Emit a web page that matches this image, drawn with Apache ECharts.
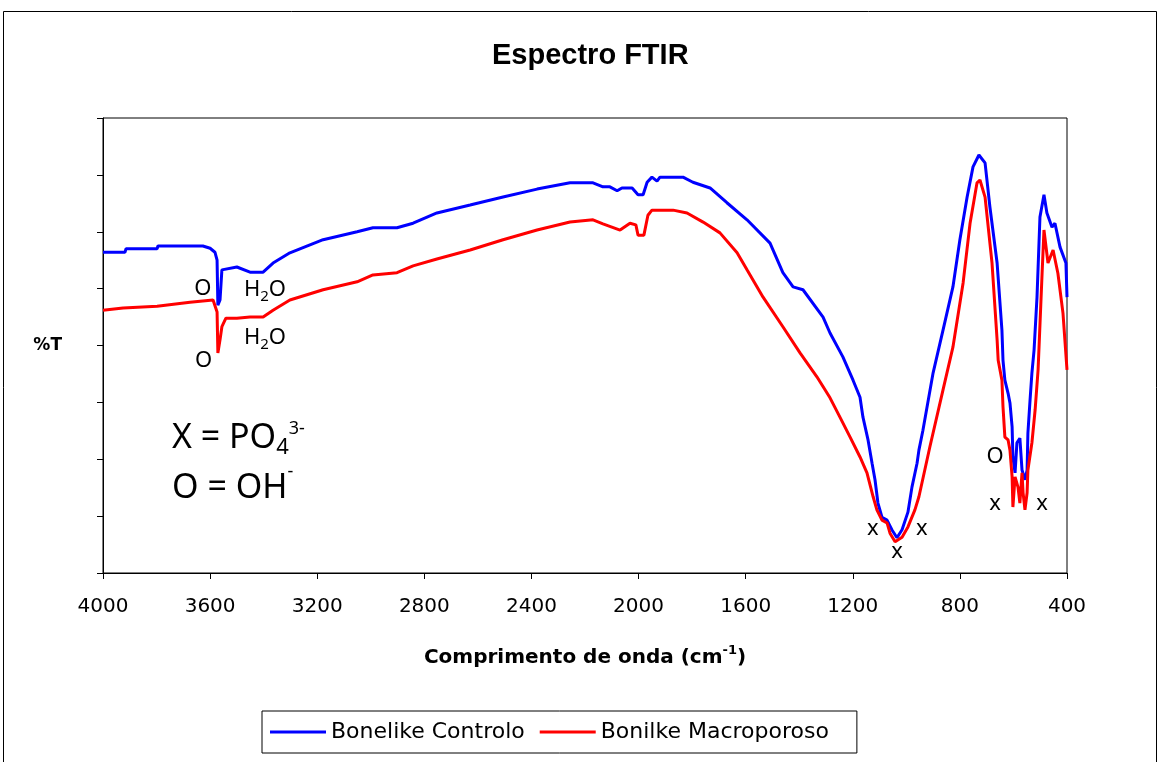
<!DOCTYPE html>
<html lang="pt">
<head>
<meta charset="UTF-8">
<title>Espectro FTIR</title>
<script src="https://cdn.jsdelivr.net/npm/echarts@6/dist/echarts.min.js"></script>
<style>
    html, body { margin: 0; padding: 0; background: #fff; }
    #main { width: 1160px; height: 762px; }
</style>
</head>
<body>
<div id="main"></div>
<script type="text/javascript">
// comprimento de onda (cm-1) e %T
var controloWn = [4000, 3918, 3914, 3798, 3795, 3627, 3600, 3582, 3574, 3571, 3563, 3556, 3500, 3451, 3402, 3365, 3302, 3178, 3051, 2992,
    2902, 2842, 2753, 2629, 2506, 2379, 2256, 2170, 2133, 2107, 2080, 2062, 2024, 2002, 1983, 1968, 1950, 1931, 1920, 1834,
    1797, 1733, 1670, 1595, 1509, 1461, 1423, 1386, 1311, 1285, 1237, 1199, 1173, 1162, 1143, 1128, 1117, 1106, 1091, 1072,
    1054, 1035, 1016, 994, 979, 960, 953, 938, 900, 863, 826, 800, 773, 751, 729, 706, 688, 661, 643, 639,
    632, 620, 613, 605, 602, 594, 587, 576, 568, 557, 549, 546, 538, 531, 523, 512, 501, 486, 475, 456,
    445, 426, 404, 400];
var controloT = [56.4, 56.4, 57.0, 57.0, 57.5, 57.5, 57.1, 56.4, 55.0, 47.1, 48.0, 53.3, 53.8, 52.9, 52.9, 54.5, 56.3, 58.6, 60.0, 60.7,
    60.7, 61.5, 63.3, 64.7, 66.1, 67.5, 68.6, 68.6, 67.9, 67.9, 67.2, 67.7, 67.7, 66.5, 66.5, 68.7, 69.6, 68.9, 69.6, 69.6,
    68.7, 67.7, 65.1, 62.1, 58.0, 52.8, 50.3, 49.8, 45.0, 42.2, 38.0, 33.9, 30.9, 27.4, 23.4, 19.3, 16.4, 12.3, 9.8, 9.3,
    7.6, 6.2, 7.6, 10.7, 15.1, 19.3, 21.6, 25.1, 35.2, 42.7, 50.3, 58.6, 66.1, 71.4, 73.5, 72.1, 64.4, 54.5, 42.7, 37.4,
    33.9, 31.6, 29.9, 25.7, 20.4, 17.6, 22.9, 23.7, 18.1, 16.4, 18.1, 24.6, 30.4, 35.2, 39.2, 48.5, 62.6, 66.5, 63.3, 60.8,
    61.5, 57.3, 54.5, 48.5];

var macroWn = [4000, 3925, 3798, 3675, 3589, 3582, 3574, 3571, 3563, 3556, 3541, 3500, 3451, 3402, 3365, 3302, 3178, 3051, 2992, 2902,
    2842, 2753, 2629, 2506, 2379, 2256, 2170, 2133, 2069, 2032, 2010, 2002, 1980, 1965, 1950, 1871, 1819, 1759, 1696, 1632,
    1595, 1535, 1461, 1397, 1334, 1285, 1248, 1210, 1173, 1147, 1124, 1110, 1091, 1072, 1061, 1042, 1016, 994, 968, 953,
    912, 863, 826, 788, 762, 736, 725, 706, 680, 661, 657, 643, 639, 632, 620, 613, 605, 602, 594, 583,
    576, 568, 564, 557, 549, 546, 531, 519, 508, 493, 486, 471, 452, 434, 415, 400];
var macroT = [46.2, 46.6, 46.9, 47.6, 48.0, 48.0, 45.9, 38.7, 41.0, 43.3, 44.8, 44.8, 45.0, 45.0, 46.2, 48.0, 49.8, 51.2, 52.4, 52.8,
    54.0, 55.2, 56.8, 58.6, 60.3, 61.7, 62.1, 61.4, 60.3, 61.5, 61.2, 59.4, 59.4, 62.9, 63.8, 63.8, 63.3, 61.7, 59.8, 56.3,
    53.3, 48.5, 43.3, 38.7, 34.5, 30.8, 27.4, 23.9, 20.4, 17.6, 13.4, 11.1, 9.3, 8.8, 7.0, 5.5, 6.3, 8.1, 11.1, 13.4,
    22.2, 32.2, 39.7, 51.0, 61.5, 68.6, 69.1, 66.1, 54.5, 41.0, 37.4, 33.9, 29.2, 23.9, 23.4, 21.6, 16.9, 11.6, 16.9, 15.1,
    12.3, 17.6, 14.1, 11.1, 14.1, 18.1, 22.9, 28.7, 35.7, 52.7, 60.3, 54.5, 56.8, 52.7, 45.7, 35.7];

// anotacoes sobre as bandas
var annoText = ['O', 'H{sub|2}O', 'O', 'H{sub|2}O', 'x', 'x', 'x', 'O', 'x', 'x'];
var annoWn = [3627, 3395, 3624, 3395, 1125, 942, 1035, 669, 669, 493];
var annoT = [49.9, 49.8, 37.4, 41.3, 7.7, 7.7, 3.7, 20.4, 12.1, 12.1];

var seriesNames = ['Bonelike Controlo', 'Bonilke Macroporoso'];

function pairs(xs, ys) {
    return xs.map(function (x, i) { return [x, ys[i]]; });
}

var annoData = annoWn.map(function (x, i) { return [x, annoT[i], annoText[i]]; });

var chart = echarts.init(document.getElementById('main'));
chart.setOption({
    animation: false,
    backgroundColor: '#fff',
    title: {
        text: 'Espectro FTIR',
        left: 487,
        top: 36,
        textStyle: { fontFamily: 'Liberation Sans', fontWeight: 'bold', fontSize: 29, color: '#000' }
    },
    legend: {
        data: seriesNames,
        left: 262,
        top: 711,
        orient: 'horizontal',
        icon: 'rect',
        itemWidth: 56,
        itemHeight: 3,
        itemGap: 15,
        padding: [10, 28, 10, 8],
        borderColor: '#000',
        borderWidth: 1,
        backgroundColor: '#fff',
        textStyle: { fontFamily: 'DejaVu Sans', fontSize: 22, color: '#000' }
    },
    grid: {
        left: 103, right: 93, top: 118, bottom: 189,
        show: true, borderColor: '#000', borderWidth: 1,
        outerBoundsMode: 'none'
    },
    xAxis: {
        type: 'value',
        inverse: true,
        min: 400, max: 4000, interval: 400,
        name: 'Comprimento de onda (cm{sup|-1})',
        nameLocation: 'middle',
        nameGap: 71,
        nameTextStyle: {
            fontFamily: 'DejaVu Sans', fontWeight: 'bold', fontSize: 20, color: '#000',
            rich: {
                sup: { fontFamily: 'DejaVu Sans', fontWeight: 'bold', fontSize: 13, color: '#000', padding: [0, 0, 14, 0] }
            }
        },
        axisLine: { onZero: false, lineStyle: { color: '#000', width: 1 } },
        axisTick: { show: true, inside: false, length: 6, lineStyle: { color: '#000' } },
        axisLabel: {
            margin: 24, fontFamily: 'DejaVu Sans', fontSize: 20, color: '#000',
            formatter: function (v) { return String(v); }
        },
        splitLine: { show: false }
    },
    yAxis: {
        type: 'value',
        min: 0, max: 80, interval: 10,
        name: '%T',
        nameLocation: 'middle',
        nameRotate: 0,
        nameGap: 41,
        nameTextStyle: { fontFamily: 'DejaVu Sans', fontWeight: 'bold', fontSize: 17, color: '#000' },
        axisLine: { show: true, onZero: false, lineStyle: { color: '#000', width: 1 } },
        axisTick: { show: true, inside: false, length: 6, lineStyle: { color: '#000' } },
        axisLabel: { show: false },
        splitLine: { show: false }
    },
    graphic: [
        {
            type: 'rect', silent: true, z: -1,
            shape: { x: 3.5, y: 11.5, width: 1153, height: 800 },
            style: { fill: 'none', stroke: '#000', lineWidth: 1 }
        },
        {
            type: 'text', x: 172, y: 438, silent: true,
            style: {
                text: 'X = PO{sub|4}{sup|3-}',
                fontFamily: 'Noto Sans', fontSize: 34, fill: '#000', verticalAlign: 'middle',
                rich: {
                    sub: { fontFamily: 'Noto Sans', fontSize: 22, fill: '#000', padding: [19, 0, 0, 0] },
                    sup: { fontFamily: 'Noto Sans', fontSize: 18, fill: '#000', padding: [0, 0, 19, 0] }
                }
            }
        },
        {
            type: 'text', x: 172, y: 488, silent: true,
            style: {
                text: 'O = OH{sup|-}',
                fontFamily: 'Noto Sans', fontSize: 34, fill: '#000', verticalAlign: 'middle',
                rich: {
                    sup: { fontFamily: 'Noto Sans', fontSize: 18, fill: '#000', padding: [0, 0, 33, 0] }
                }
            }
        }
    ],
    series: [
        {
            name: seriesNames[0],
            type: 'line',
            data: pairs(controloWn, controloT),
            symbol: 'none',
            color: '#0000ff',
            lineStyle: { color: '#0000ff', width: 3 }
        },
        {
            name: seriesNames[1],
            type: 'line',
            data: pairs(macroWn, macroT),
            symbol: 'none',
            color: '#ff0000',
            lineStyle: { color: '#ff0000', width: 3 }
        },
        {
            name: 'anotacoes',
            type: 'scatter',
            data: annoData,
            symbolSize: 1,
            silent: true,
            z: 5,
            itemStyle: { color: 'rgba(0,0,0,0)' },
            label: {
                show: true,
                position: 'inside',
                fontFamily: 'Noto Sans',
                fontSize: 22,
                color: '#000',
                opacity: 1,
                textBorderWidth: 0,
                formatter: function (p) { return p.data[2]; },
                rich: {
                    sub: { fontFamily: 'Noto Sans', fontSize: 15, color: '#000', padding: [13, 0, 0, 0] }
                }
            }
        }
    ]
});
</script>
</body>
</html>
